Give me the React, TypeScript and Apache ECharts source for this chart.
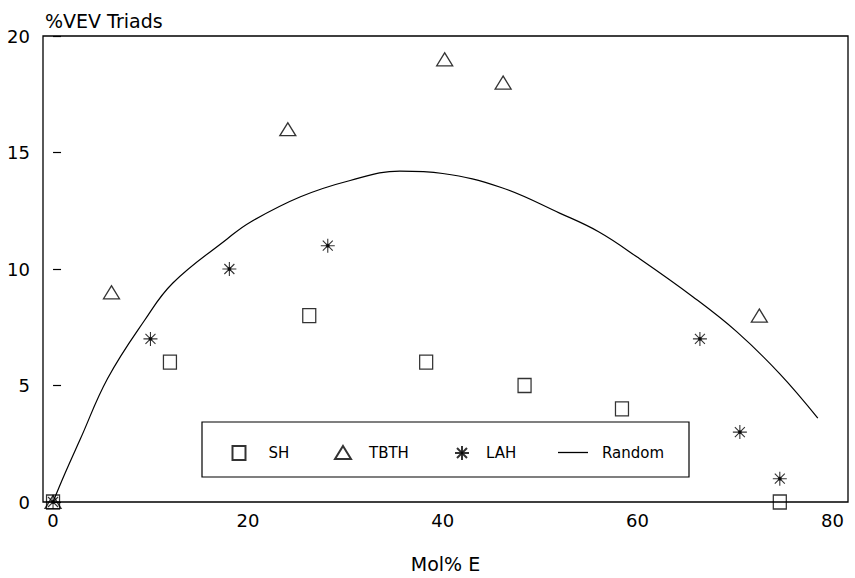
import React, { useEffect, useRef } from "react";
import * as echarts from "echarts";

const xTickLabels = [0, 20, 40, 60, 80];
const yTickLabels = [0, 5, 10, 15, 20];

const shX = [0, 12, 26.3, 38.3, 48.4, 58.4, 74.6];
const shY = [0, 6, 8, 6, 5, 4, 0];

const tbthX = [0, 6, 24.1, 40.2, 46.2, 72.5];
const tbthY = [0, 9, 16, 19, 18, 8];

const lahX = [0, 10, 18.1, 28.2, 66.4, 70.5, 74.6];
const lahY = [0, 7, 10, 11, 7, 3, 1];

const randomX = [0, 1.2, 2.8, 5.6, 9.4, 12.3, 17.9, 20.2, 25.4, 30.5, 35.6, 40, 46, 52, 56, 60, 65.7, 70.2, 74.6, 78.5];
const randomY = [0, 1.2, 2.7, 5.3, 7.8, 9.4, 11.3, 12.0, 13.1, 13.8, 14.2, 14.1, 13.5, 12.4, 11.6, 10.5, 8.8, 7.3, 5.5, 3.6];

const FONT = "DejaVu Sans";
const STAR =
  "path://M7,0L7,14M0,7L14,7M2,2L12,12M2,12L12,2M5.6,5.6L8.4,5.6L8.4,8.4L5.6,8.4Z";

const zip = (xs: number[], ys: number[]) => xs.map((x, i) => [x, ys[i]]);

export default function App() {
  const ref = useRef<HTMLDivElement>(null);
  useEffect(() => {
    if (!ref.current) return;
    const chart = echarts.init(ref.current, null, { renderer: "svg" });
    const hollow = {
      color: "rgba(255,255,255,0)",
      borderColor: "#000",
      borderWidth: 1.3,
    };
    const legendBase = {
      orient: "horizontal",
      padding: 0,
      textStyle: { fontFamily: FONT, fontSize: 15, color: "#000" },
      selectedMode: false,
    };
    chart.setOption({
      animation: false,
      backgroundColor: "#fff",
      title: {
        text: "%VEV Triads",
        left: 40,
        top: 6,
        textStyle: { fontFamily: FONT, fontSize: 19, fontWeight: "normal", color: "#000" },
      },
      grid: {
        left: 43,
        right: 7,
        top: 36,
        bottom: 76,
        show: true,
        borderColor: "#000",
        borderWidth: 1.3,
        backgroundColor: "#fff",
      },
      xAxis: {
        type: "value",
        min: -1.03,
        max: 81.6,
        name: "Mol% E",
        nameLocation: "middle",
        nameGap: 52,
        nameTextStyle: { fontFamily: FONT, fontSize: 19, color: "#000" },
        axisLine: { show: false },
        axisTick: { show: false },
        splitLine: { show: false },
        axisLabel: {
          customValues: xTickLabels,
          fontFamily: FONT,
          fontSize: 18,
          color: "#000",
          margin: 9,
        },
      },
      yAxis: {
        type: "value",
        min: 0,
        max: 20,
        interval: 5,
        axisLine: { show: false },
        axisTick: { show: true, inside: true, length: 8, lineStyle: { color: "#000", width: 1.2 } },
        splitLine: { show: false },
        axisLabel: {
          customValues: yTickLabels,
          fontFamily: FONT,
          fontSize: 18,
          color: "#000",
          margin: 13,
        },
      },
      legend: [
        { ...legendBase, data: ["SH"], left: 231.5, top: 445, itemWidth: 13, itemHeight: 14, textStyle: { ...legendBase.textStyle, padding: [0, 0, 0, 18] } },
        { ...legendBase, data: ["TBTH"], left: 334, top: 445, itemWidth: 16, itemHeight: 13, textStyle: { ...legendBase.textStyle, padding: [0, 0, 0, 13] } },
        { ...legendBase, data: ["LAH"], left: 454, top: 445, itemWidth: 14, itemHeight: 14, textStyle: { ...legendBase.textStyle, padding: [0, 0, 0, 12] } },
        { ...legendBase, data: [{ name: "Random", icon: "rect" }], left: 558, top: 445, itemWidth: 30, itemHeight: 1.3, textStyle: { ...legendBase.textStyle, padding: [0, 0, 0, 9] } },
      ],
      graphic: [
        {
          type: "rect",
          z: 3,
          shape: { x: 202, y: 422, width: 487, height: 55 },
          style: { fill: "rgba(255,255,255,0)", stroke: "#000", lineWidth: 1.2 },
        },
      ],
      series: [
        {
          name: "SH",
          type: "scatter",
          clip: false,
          symbol: "rect",
          symbolSize: [13, 14],
          itemStyle: hollow,
          data: zip(shX, shY),
        },
        {
          name: "TBTH",
          type: "scatter",
          clip: false,
          symbol: "triangle",
          symbolSize: [16, 13],
          itemStyle: hollow,
          data: zip(tbthX, tbthY),
        },
        {
          name: "LAH",
          type: "scatter",
          clip: false,
          symbol: STAR,
          symbolSize: 14,
          itemStyle: { color: "#000", borderColor: "#000", borderWidth: 1.1 },
          data: zip(lahX, lahY),
        },
        {
          name: "Random",
          type: "line",
          symbol: "none",
          showSymbol: false,
          smooth: 0.4,
          clip: false,
          lineStyle: { color: "#000", width: 1.2 },
          itemStyle: { color: "#000" },
          data: zip(randomX, randomY),
        },
      ],
    });
    return () => chart.dispose();
  }, []);
  return (
    <div
      ref={ref}
      style={{ position: "absolute", left: 0, top: 0, width: 855, height: 578 }}
    />
  );
}
